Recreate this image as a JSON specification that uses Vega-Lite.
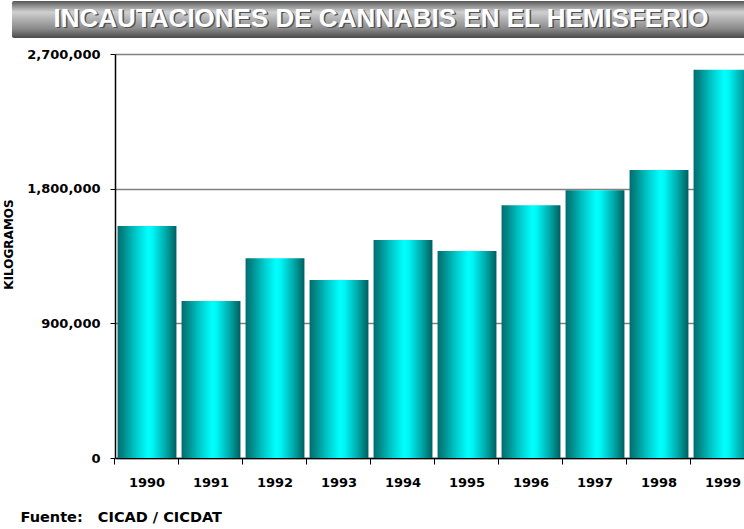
{
  "$schema": "https://vega.github.io/schema/vega-lite/v6.json",
  "autosize": "none",
  "padding": {"left": 12, "top": 1, "right": 732, "bottom": 528},
  "background": "white",
  "spacing": 10,
  "center": true,
  "vconcat": [
    {
      "width": 846,
      "height": 37,
      "data": {"values": [{"titulo": "INCAUTACIONES DE CANNABIS EN EL HEMISFERIO"}]},
      "view": {
        "stroke": null,
        "cornerRadius": 2,
        "fill": {
          "gradient": "linear", "x1": 0, "y1": 0, "x2": 0, "y2": 1,
          "stops": [
            {"offset": 0, "color": "#555555"},
            {"offset": 0.12, "color": "#8a8a8a"},
            {"offset": 0.3, "color": "#d0d0d0"},
            {"offset": 0.5, "color": "#b0b0b0"},
            {"offset": 0.75, "color": "#8a8a8a"},
            {"offset": 1, "color": "#4a4a4a"}
          ]
        }
      },
      "layer": [
        {
          "mark": {"type": "text", "font": "Liberation Sans", "fontWeight": "bold", "fontSize": 26, "color": "#505050", "baseline": "middle", "dx": -52.5, "dy": 0.5},
          "encoding": {"text": {"field": "titulo", "type": "nominal"}}
        },
        {
          "mark": {"type": "text", "font": "Liberation Sans", "fontWeight": "bold", "fontSize": 26, "color": "#ffffff", "baseline": "middle", "dx": -54, "dy": -1},
          "encoding": {"text": {"field": "titulo", "type": "nominal"}}
        }
      ]
    },
    {
      "width": 640,
      "height": 404,
      "view": {"stroke": null},
      "data": {"values": [
        {"anio": "1990", "kg": 1550000},
        {"anio": "1991", "kg": 1050000},
        {"anio": "1992", "kg": 1335000},
        {"anio": "1993", "kg": 1190000},
        {"anio": "1994", "kg": 1457000},
        {"anio": "1995", "kg": 1383000},
        {"anio": "1996", "kg": 1690000},
        {"anio": "1997", "kg": 1790000},
        {"anio": "1998", "kg": 1925000},
        {"anio": "1999", "kg": 2595000}
      ]},
      "mark": {
        "type": "bar",
        "fill": {
          "gradient": "linear", "x1": 0, "y1": 0, "x2": 1, "y2": 0,
          "stops": [
            {"offset": 0, "color": "#006c6c"},
            {"offset": 0.12, "color": "#008e8e"},
            {"offset": 0.32, "color": "#00cccc"},
            {"offset": 0.52, "color": "#00ffff"},
            {"offset": 0.6, "color": "#00f4f4"},
            {"offset": 0.82, "color": "#00a8a8"},
            {"offset": 1, "color": "#005f5f"}
          ]
        }
      },
      "encoding": {
        "x": {
          "field": "anio", "type": "ordinal",
          "scale": {"paddingInner": 0.08, "paddingOuter": 0.04},
          "axis": {
            "title": "Fuente:\u00a0\u00a0\u00a0CICAD / CICDAT",
            "titleFont": "DejaVu Sans", "titleFontSize": 14.5, "titleFontWeight": "bold", "titleColor": "black",
            "titleAnchor": "start", "titleAlign": "left", "titleBaseline": "alphabetic",
            "titleX": -95, "titleY": 63,
            "labelAngle": 0, "labelFont": "DejaVu Sans", "labelFontSize": 13, "labelFontWeight": "bold", "labelColor": "black",
            "labelPadding": 12, "tickSize": 6, "tickColor": "black", "domainColor": "black", "domainWidth": 1.5,
            "bandPosition": -0.0435, "labelOffset": 0, "grid": false
          }
        },
        "y": {
          "field": "kg", "type": "quantitative",
          "scale": {"domain": [0, 2700000], "nice": false},
          "axis": {
            "title": "KILOGRAMOS",
            "titleFont": "DejaVu Sans", "titleFontSize": 12, "titleFontWeight": "bold", "titleColor": "black",
            "titleX": -107, "titleY": 190, "titleBaseline": "middle", "titleAlign": "center", "titleAngle": -90,
            "values": [0, 900000, 1800000, 2700000], "format": ",d",
            "labelFont": "DejaVu Sans", "labelFontSize": 13, "labelFontWeight": "bold", "labelColor": "black",
            "labelPadding": 10, "labelFlush": false, "tickSize": 5, "tickColor": "black",
            "domainColor": "black", "domainWidth": 1.5,
            "grid": true, "gridColor": "#808080", "gridWidth": 1.5
          }
        }
      }
    }
  ]
}
